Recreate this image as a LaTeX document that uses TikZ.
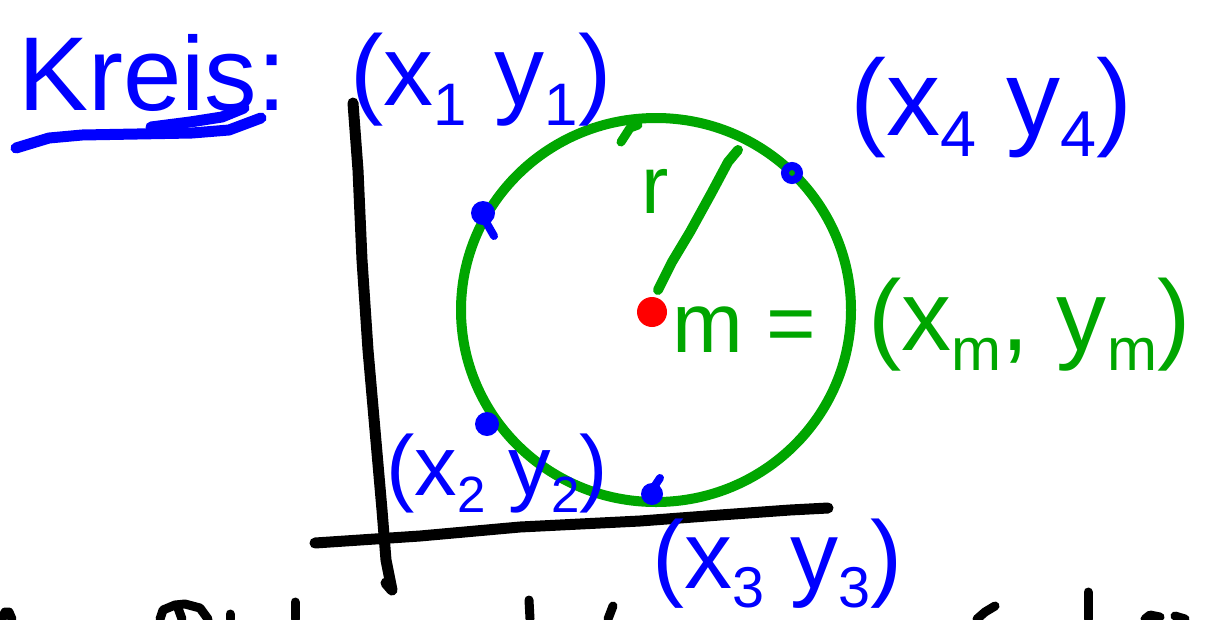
\documentclass[tikz,border=0pt]{standalone}
\usepackage{fontspec}
\setmainfont{Liberation Sans}
\definecolor{inkblue}{RGB}{0,0,255}
\definecolor{inkgreen}{RGB}{0,166,0}
\definecolor{inkred}{RGB}{255,0,0}
\newcommand\sbx[1]{\raisebox{-0.2em}{\scalebox{0.6}{#1}}}
\tikzset{
  pen/.style={line width=11pt, line cap=round, line join=round},
  bluetext/.style={text=inkblue, inner sep=0pt, anchor=base west},
  greentext/.style={text=inkgreen, inner sep=0pt, anchor=base west},
  fs/.style={font=\fontsize{#1}{#1}\selectfont}
}
\begin{document}
\begin{tikzpicture}[x=1pt,y=-1pt]
\useasboundingbox (0,0) rectangle (1209,619);
% axes
\draw[pen, black] (353,103) -- (358,170) -- (362,260) -- (368,350) -- (375,430) -- (382,510) -- (386,560) -- (392,590) -- (386,583);
\draw[pen, black] (315,543) -- (360,540) -- (420,536) -- (520,527) -- (640,521) -- (720,515) -- (790,510) -- (828,508);
% circle
\draw[pen, inkgreen, line width=10pt] (656,310) ellipse [x radius=195, y radius=192];
\draw[pen, inkgreen, line width=9pt] (621,142) -- (630,128) -- (638,125);
% radius
\coordinate (m) at (652,312);
\coordinate (rtip) at (738,150);
\draw[pen, inkgreen, line width=10pt] (658,290) -- (672,262) -- (690,232) -- (712,192) -- (728,162) -- (rtip);
\node[greentext, fs=82] (r) at (641,213) {r};
% centre point
\fill[inkred] (m) circle (15);
% points on circle
\fill[inkblue] (483,213) circle (12);
\draw[pen, inkblue, line width=8pt] (486,222) -- (494,236);
\draw[inkblue, line width=8pt] (792,173) circle (7);
\fill[inkblue] (487,424) circle (12);
\fill[inkblue] (652,494) circle (11);
\draw[pen, inkblue, line width=8pt] (652,490) -- (660,478);
% title
\node[bluetext, fs=105] (title) at (18,110) {Kreis:};
\draw[pen, inkblue] (16,148) -- (49,138) -- (82,135) -- (192,133) -- (229,130) -- (261,118);
\draw[pen, inkblue] (151,127) -- (190,122) -- (222,117) -- (244,108);
% labels
\node[bluetext, fs=100] (p1) at (350,105) {(x\sbx{1} y\sbx{1})};
\node[bluetext, fs=108] (p4) at (850,135) {(x\sbx{4} y\sbx{4})};
\node[bluetext, fs=85] (p2) at (386,495) {(x\sbx{2} y\sbx{2})};
\node[bluetext, fs=96] (p3) at (652,588) {(x\sbx{3} y\sbx{3})};
\node[greentext, fs=85] (meq) at (672,352) {m =};
\node[greentext, fs=100] (mc) at (868,350) {(x\sbx{m}, y\sbx{m})};
% clipped handwriting at the bottom edge
\begin{scope}[pen, black, line width=9pt]
\draw (2,619) -- (5,612) -- (9,612) -- (12,619);
\draw (160,619) -- (163,610) -- (175,605) -- (185,604) -- (200,608) -- (208,619);
\draw (178,608) -- (182,619);
\draw (230,614) -- (230,619);
\draw (295,602) -- (295,619);
\draw (529,600) -- (530,619);
\draw (613,606) -- (608,619);
\draw (995,606) -- (985,612) -- (977,619);
\draw (1088,592) -- (1088,619);
\draw (1145,619) -- (1150,615) -- (1160,617);
\draw (1175,616) -- (1185,619);
\end{scope}
\end{tikzpicture}
\end{document}
